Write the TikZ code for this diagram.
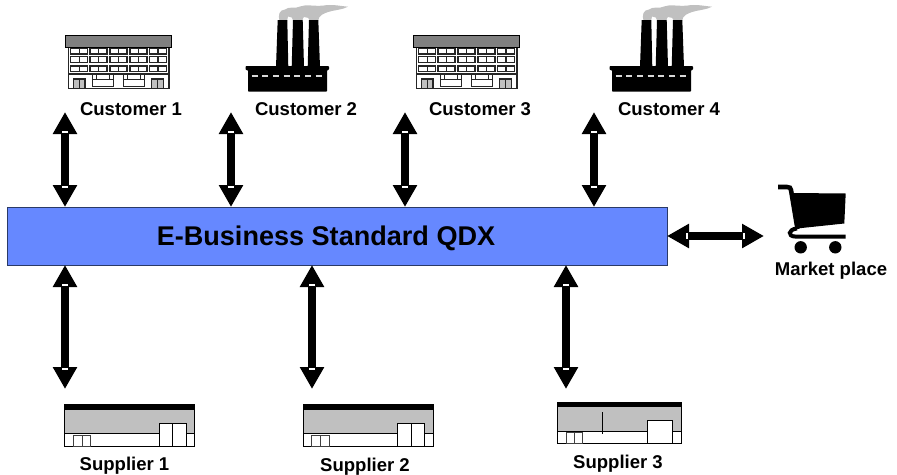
\documentclass[tikz,border=0pt]{standalone}
\usepackage{fontspec}
\setmainfont{Liberation Sans}
\usetikzlibrary{arrows.meta,decorations.markings}
\definecolor{busblue}{HTML}{6688FF}
\definecolor{busedge}{HTML}{2A3A66}
\definecolor{roofgray}{HTML}{808080}
\definecolor{wallgray}{HTML}{C0C0C0}
\tikzset{
  lbl/.style={font=\bfseries\fontsize{13.9pt}{15pt}\selectfont,inner sep=0pt,outer sep=0pt,anchor=center},
  bi/.style={line width=6.2pt,-,
    {Triangle[length=16.5pt,width=17.25pt]}-{Triangle[length=16.5pt,width=17.25pt]},
    postaction={decorate,decoration={markings,
      mark=at position 15.2pt with {\draw[white,line width=1.5pt,-] (0,-2.25pt)--(0,2.25pt);},
      mark=at position -15.2pt with {\draw[white,line width=1.5pt,-] (0,-2.25pt)--(0,2.25pt);}}}},
  bline/.style={line width=.85pt,draw=black!85},
  building/.pic={
    \fill[white,bline] (68.3,47) rectangle (169,88.5);
    \fill[roofgray,draw=black,line width=.7pt] (65,35) rectangle (171.7,47.3);
    \foreach \xx in {70.7,90,110,130,149.5}{
      \foreach \yy/\hh in {48.5/5.5,56.8/5.8,66/5.6}{
        \draw[bline] (\xx,\yy) rectangle ({\xx+17},{\yy+\hh});
        \draw[bline] ({\xx+8.5},\yy) -- ({\xx+8.5},{\yy+\hh});
      }}
    \draw[bline] (68.3,74)--(169,74);
    \foreach \xx in {73.3,151.7}{
      \fill[wallgray,bline] (\xx,79) rectangle ({\xx+11.7},88.5);
      \draw[bline] ({\xx+5.85},79)--({\xx+5.85},88.5);}
    \foreach \xx in {92.3,123.3}{
      \draw[bline] (\xx,74.5) rectangle ({\xx+21.5},86.7);
      \draw[bline] (\xx,79.5)--({\xx+21.5},79.5);
      \draw[bline] ({\xx+4},74.5)--({\xx+4},79.5) ({\xx+17.5},74.5)--({\xx+17.5},79.5);}
  },
  factory/.pic={
    \fill[wallgray] (279.5,21) .. controls (278,15) and (279,10) .. (285,9.5)
      .. controls (289,6) and (296,9) .. (300,6.5)
      .. controls (306,4) and (314,6.5) .. (323,5.6)
      .. controls (332,4) and (340,6) .. (348,6.7)
      .. controls (342,10) and (334,10) .. (328,12)
      .. controls (323,14) and (319,15) .. (318,21) -- (310,21)
      .. controls (310,18) and (307,17) .. (304,17)
      .. controls (303,18) and (302.5,19) .. (302.5,21) -- (293.5,21)
      .. controls (293,18) and (291,16) .. (288,16.5) -- (287,21) -- cycle;
    \fill[black] (277.7,20)--(287.3,20)--(288.3,67)--(276,67)--cycle;
    \fill[black] (293,20)--(302.7,20)--(304,67)--(291.7,67)--cycle;
    \fill[black] (309,20)--(318.3,20)--(320,67)--(307.7,67)--cycle;
    \fill[black,rounded corners=.6pt] (245.5,66)--(329,66)--(329,70)--(327,70)--(327,91.7)--(248,91.7)--(248,70)--(245.5,70)--cycle;
    \draw[white!85!black,line width=1.5pt,dash pattern=on 4.5pt off 3.5pt] (251.7,75.7)--(323,75.7);
  },
  store/.pic={
    \fill[wallgray] (64.5,404) rectangle (194.5,433);
    \fill[white] (64.5,433) rectangle (194.5,446.5);
    \draw[line width=.75pt] (64.5,404) rectangle (194.5,446.5);
    \fill[black] (64.5,404) rectangle (194.5,409.5);
    \draw[line width=.75pt] (64.5,433)--(194.5,433);
    \draw[draw=black,fill=white,line width=.75pt] (159,423.5) rectangle (186,446.5);
    \draw[line width=.75pt] (172.5,423.5)--(172.5,446.5);
    \draw[line width=.75pt,draw=black!75] (73,435.5) rectangle (90.5,446.5);
    \draw[line width=.75pt,draw=black!75] (82,435.5)--(82,446.5);
  },
  storeb/.pic={
    \fill[wallgray] (557,402) rectangle (681,431);
    \fill[white] (557,431) rectangle (681,443);
    \draw[line width=.75pt] (557,402) rectangle (681,443);
    \fill[black] (557,402) rectangle (681,406.5);
    \draw[line width=.75pt] (557,431)--(681,431);
    \draw[line width=.75pt,fill=white] (647,420) rectangle (672,443);
    \draw[line width=.7pt] (602,412)--(602,433.5);
    \draw[line width=.75pt,draw=black!75] (566,432) rectangle (582.5,443);
    \draw[line width=.75pt,draw=black!75] (574,432)--(574,443);
  },
  cart/.pic={
    \draw[line width=3.4pt,line cap=butt] (778,187)--(787,187)
      .. controls (790,187) and (790.5,188) .. (791,190)--(797.5,229);
    \fill[black] (792,193)--(845.7,193.5)--(844.3,223.5)--(797,228.5)--cycle;
    \draw[line width=3pt] (845.5,236.5)--(795,236.5)
      .. controls (788,236.5) and (787.5,229.5) .. (797,228.5);
    \fill[black] (800.7,247.3) circle (6.2);
    \fill[black] (835.3,247.3) circle (6.2);
  }
}
\begin{document}
\begin{tikzpicture}[x=.75pt,y=-.75pt]
\useasboundingbox (0,0) rectangle (897,475);
\pic {building};
\pic at (348,0) {building};
\pic {factory};
\pic at (364,0) {factory};
\pic {store};
\pic at (238.5,0) {store};
\pic {storeb};
\pic {cart};

\node[draw=busedge,fill=busblue,line width=.75pt,minimum width=495pt,minimum height=43.5pt,inner sep=0pt,outer sep=0pt] (bus) at (337,236) {};
\node[font=\bfseries\fontsize{20.3pt}{24pt}\selectfont,inner sep=0pt,outer sep=0pt] (title) at (326,238) {E-Business Standard QDX};

\node[lbl] (c1) at (131,109.5) {Customer 1};
\node[lbl] (c2) at (306,109.5) {Customer 2};
\node[lbl] (c3) at (480,109.5) {Customer 3};
\node[lbl] (c4) at (669,109.5) {Customer 4};
\node[lbl] (s1) at (124.5,465.5) {Supplier 1};
\node[lbl] (s2) at (365,466.5) {Supplier 2};
\node[lbl] (s3) at (618,463.5) {Supplier 3};
\node[lbl] (mp) at (831,270.5) {Market place};

\coordinate (a1) at (65,112);
\coordinate (a2) at (231,112);
\coordinate (a3) at (405,112);
\coordinate (a4) at (594,112);
\coordinate (b1) at (65,389);
\coordinate (b2) at (312,389);
\coordinate (b3) at (566,389);
\coordinate (m) at (764,236);

\draw[bi] (a1) -- (a1 |- bus.north);
\draw[bi] (a2) -- (a2 |- bus.north);
\draw[bi] (a3) -- (a3 |- bus.north);
\draw[bi] (a4) -- (a4 |- bus.north);
\draw[bi] (b1) -- (b1 |- bus.south);
\draw[bi] (b2) -- (b2 |- bus.south);
\draw[bi] (b3) -- (b3 |- bus.south);
\draw[bi] (m) -- (m -| bus.east);
\end{tikzpicture}
\end{document}
